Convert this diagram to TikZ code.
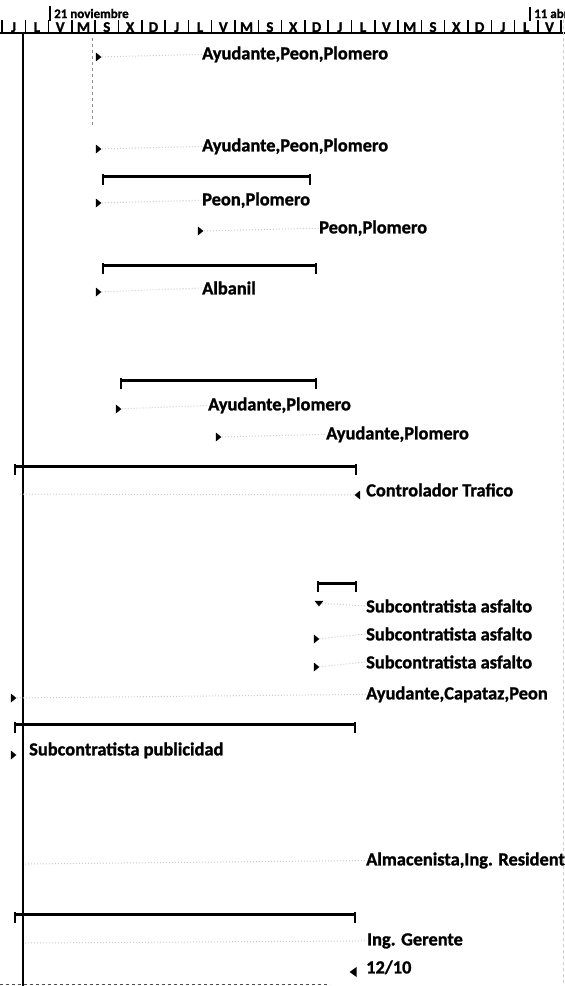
\documentclass[tikz,border=0pt]{standalone}
\usepackage{fontspec}
\setmainfont{Carlito}[BoldFeatures={FakeBold=1.2}]
\usetikzlibrary{shapes.geometric}
\begin{document}
\begin{tikzpicture}[x=1pt,y=-1pt,
  lbl/.style={anchor=mid west,inner sep=0pt,font=\bfseries\fontsize{18.4}{20}\selectfont},
  hdr/.style={anchor=base west,inner sep=0pt,font=\bfseries\fontsize{13}{14}\selectfont},
  day/.style={anchor=base,inner sep=0pt,font=\bfseries\fontsize{15}{16}\selectfont},
  sepline/.style={line width=1.5pt},
  mkr/.style={isosceles triangle,isosceles triangle stretches,fill=black,draw=none,inner sep=0pt,minimum width=9pt,minimum height=5.5pt},
  mkl/.style={mkr,shape border rotate=180},
  mkd/.style={mkr,shape border rotate=270},
  faint/.style={draw=black!20,dotted,line width=1pt},
  barline/.style={line width=3pt,line cap=butt},
  barend/.style={line width=2.5pt,line cap=butt}]
\useasboundingbox (0,0) rectangle (565,986);
\fill[white] (0,0) rectangle (565,986);

% ---------- header ----------
\coordinate (t1a) at (50,6);  \coordinate (t1b) at (50,21);
\draw[line width=1.4pt] (t1a) -- (t1b);
\node[hdr] (d21) at (54,18) {21 noviembre};
\coordinate (t2a) at (530,7); \coordinate (t2b) at (530,21);
\draw[line width=1.4pt] (t2a) -- (t2b);
\node[hdr] (d11) at (534,18) {11 abr};
\foreach \l [count=\i from 0] in {J,L,V,M,S,X,D,J,L,V,M,S,X,D,J,L,V,M,S,X,D,J,L,V}
  \node[day] (day\i) at (13.6+23.3*\i,32) {\l};
\foreach \i in {0,...,24}
  \draw[sepline] (2+23.3*\i,20) -- (2+23.3*\i,33);
\coordinate (hl) at (0,33); \coordinate (hr) at (565,33);
\draw[line width=1.4pt] (hl) -- (hr);

% ---------- frame lines ----------
\coordinate (vt) at (23,33); \coordinate (vb) at (23,986);
\draw[line width=1.5pt] (vt) -- (vb);
\coordinate (dt) at (92,38); \coordinate (db) at (92,125);
\draw[black!45,dashed,line width=0.8pt] (dt) -- (db);
\coordinate (rt) at (563,20); \coordinate (rb) at (563,986);
\draw[black!20,dashed,line width=0.8pt] (rt) -- (rb);
\coordinate (bl) at (0,984); \coordinate (br) at (330,984);
\draw[black!70,dashed,line width=1pt] (bl) -- (br);

% ---------- summary bars ----------
\newcommand\summbar[4]{%
  \coordinate (#1a) at (#2,#4); \coordinate (#1b) at (#3,#4);
  \draw[barline] (#1a) -- (#1b);
  \draw[barend] ([yshift=2pt]#1a) -- ([yshift=-9pt]#1a);
  \draw[barend] ([yshift=2pt]#1b) -- ([yshift=-9pt]#1b);}
\summbar{s1}{103}{310}{176}
\summbar{s2}{103}{316}{265}
\summbar{s3}{121}{316}{380}
\summbar{s4}{15}{356}{466}
\summbar{s5}{318}{356}{583}
\summbar{s6}{15}{355}{724}
\summbar{s7}{15}{355}{914}

% ---------- tasks ----------
\node[mkr] (m1) at (98,57) {};
\node[lbl] (l1) at (202,57) {Ayudante,Peon,Plomero};
\draw[faint] (m1) -- (l1.west);

\node[mkr] (m2) at (98,149) {};
\node[lbl] (l2) at (202,149) {Ayudante,Peon,Plomero};
\draw[faint] (m2) -- (l2.west);

\node[mkr] (m4) at (98,203) {};
\node[lbl] (l4) at (202,203) {Peon,Plomero};
\draw[faint] (m4) -- (l4.west);

\node[mkr] (m5) at (200,231) {};
\node[lbl] (l5) at (319,231) {Peon,Plomero};
\draw[faint] (m5) -- (l5.west);

\node[mkr] (m7) at (98,292) {};
\node[lbl] (l7) at (202,292) {Albanil};
\draw[faint] (m7) -- (l7.west);

\node[mkr] (m9) at (118,409) {};
\node[lbl] (l9) at (208,408) {Ayudante,Plomero};
\draw[faint] (m9) -- (l9.west);

\node[mkr] (m10) at (218,437) {};
\node[lbl] (l10) at (326,437) {Ayudante,Plomero};
\draw[faint] (m10) -- (l10.west);

\coordinate (c12) at (20,494);
\node[mkl] (m12) at (358,495) {};
\node[lbl] (l12) at (366,494) {Controlador Trafico};
\draw[faint] (c12) -- (m12);

\node[mkd] (m14) at (319,603) {};
\node[lbl] (l14) at (366,610) {Subcontratista asfalto};
\draw[faint] (m14) -- (l14.west);

\node[mkr] (m15) at (316,639) {};
\node[lbl] (l15) at (366,638) {Subcontratista asfalto};
\draw[faint] (m15) -- (l15.west);

\node[mkr] (m16) at (316,667) {};
\node[lbl] (l16) at (366,666) {Subcontratista asfalto};
\draw[faint] (m16) -- (l16.west);

\node[mkr] (m17) at (13,698) {};
\node[lbl] (l17) at (366,697) {Ayudante,Capataz,Peon};
\draw[faint] (m17) -- (l17.west);

\node[mkr] (m19) at (13,755) {};
\node[lbl] (l19) at (29,753) {Subcontratista publicidad};

\coordinate (c20) at (25,864);
\node[lbl] (l20) at (366,863) {Almacenista,Ing. Resident};
\draw[faint] (c20) -- (l20.west);

\coordinate (c22) at (25,943);
\node[lbl] (l22) at (367,943) {Ing. Gerente};
\draw[faint] (c22) -- (l22.west);

\node[mkl,minimum width=10pt,minimum height=7pt] (m23) at (354,972) {};
\node[lbl] (l23) at (366,971) {12/10};
\end{tikzpicture}
\end{document}
